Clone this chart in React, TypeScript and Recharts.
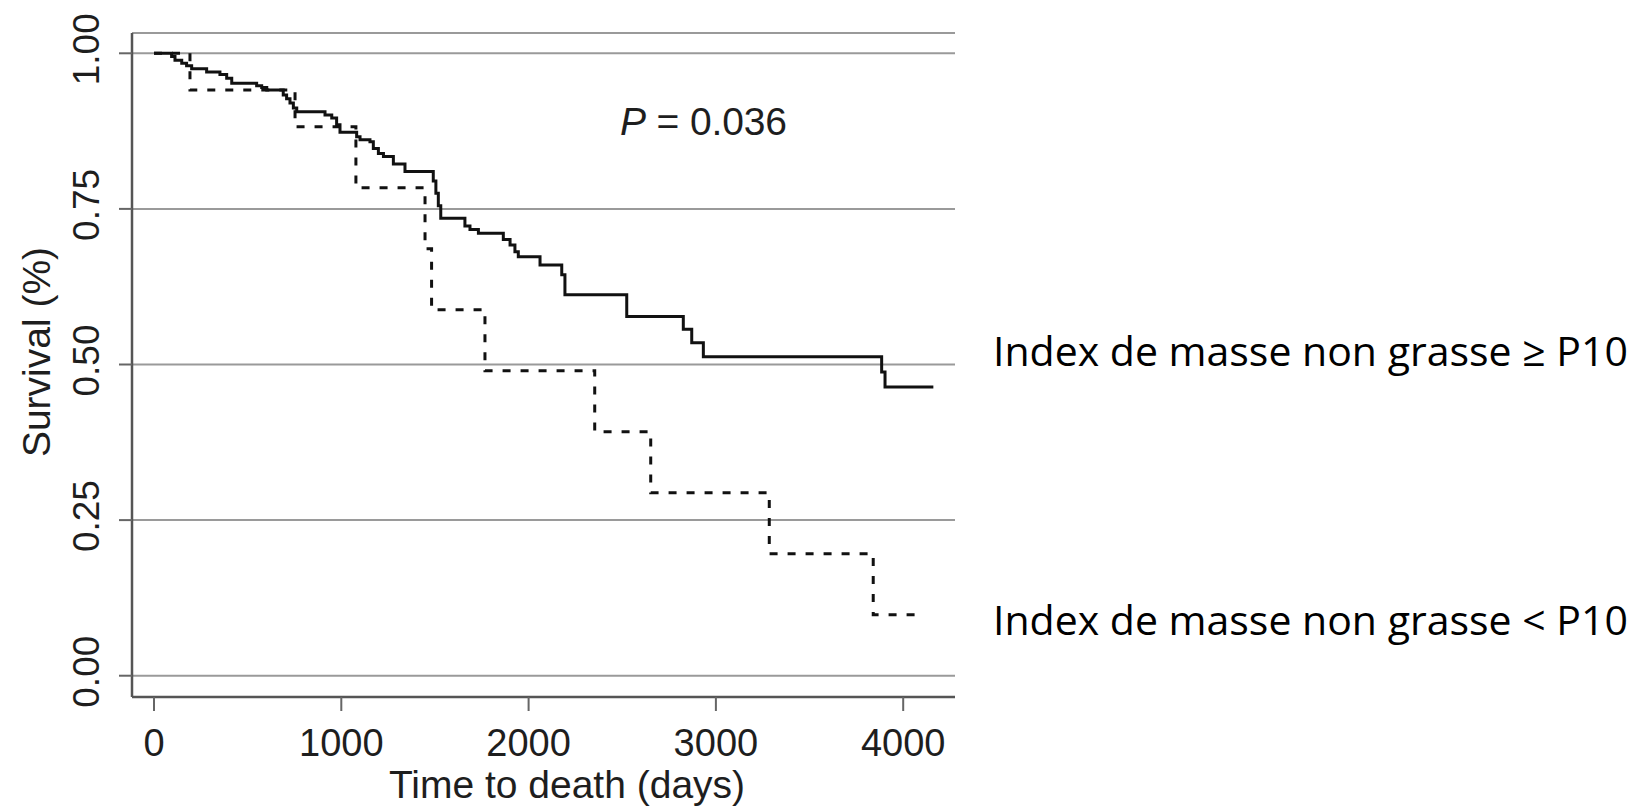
import { LineChart, Line, XAxis, YAxis, CartesianGrid } from 'recharts';

// Kaplan-Meier estimate, lean mass index >= P10 (solid curve)
const highTimes = [
  0, 94, 112, 148, 174, 201, 281, 352, 388, 415,
  548, 575, 602, 690, 708, 726, 744, 762, 913, 949,
  975, 993, 1082, 1100, 1153, 1171, 1198, 1225, 1278, 1340,
  1491, 1505, 1518, 1531, 1660, 1687, 1732, 1865, 1901, 1927,
  1945, 2061, 2177, 2194, 2524, 2826, 2871, 2933, 3885, 3903,
  4161,
];
const highSurv = [
  1, 0.995, 0.989, 0.984, 0.98, 0.975, 0.97, 0.966, 0.96, 0.952,
  0.948, 0.945, 0.941, 0.933, 0.927, 0.92, 0.912, 0.906, 0.901, 0.896,
  0.885, 0.873, 0.866, 0.861, 0.858, 0.847, 0.839, 0.834, 0.822, 0.81,
  0.795, 0.775, 0.755, 0.735, 0.7225, 0.717, 0.711, 0.701, 0.692, 0.681,
  0.673, 0.66, 0.644, 0.612, 0.577, 0.5565, 0.535, 0.5126, 0.488, 0.464,
  0.464,
];

// lean mass index < P10 (dashed curve)
const lowTimes = [0, 192, 753, 1078, 1447, 1482, 1767, 2353, 2652, 3285, 3840, 4100];
const lowSurv = [1, 0.941, 0.882, 0.784, 0.686, 0.588, 0.49, 0.392, 0.294, 0.196, 0.098, 0.098];

const xTicks = [0, 1000, 2000, 3000, 4000];
const yTicks = [0, 0.25, 0.5, 0.75, 1];

const xTitle = 'Time to death (days)';
const yTitle = 'Survival (%)';
const pValue = '0.036';
const highLabel = 'Index de masse non grasse ≥ P10';
const lowLabel = 'Index de masse non grasse < P10';

const highData = highTimes.map((t, i) => ({ t, s: highSurv[i] }));
const lowData = lowTimes.map((t, i) => ({ t, s: lowSurv[i] }));

const FONT = '"Liberation Sans", Arial, Helvetica, sans-serif';
const LABEL_FONT = '"Open Sans", "Noto Sans", sans-serif';
const INK = '#1e1e1e';

const XTick = ({ x, y, payload }: any) => (
  <text x={x} y={y + 43} textAnchor="middle" fontSize={38} fontFamily={FONT} fill={INK}>
    {payload.value}
  </text>
);

const YTick = ({ x, y, payload }: any) => (
  <text
    transform={`translate(${x - 18}, ${y - 4}) rotate(-90)`}
    textAnchor="middle"
    fontSize={37}
    fontFamily={FONT}
    fill={INK}
  >
    {Number(payload.value).toFixed(2)}
  </text>
);

export default function App() {
  return (
    <div style={{ position: 'absolute', left: 0, top: 0, width: 1648, height: 810, background: '#fff' }}>
      <LineChart
        width={1648}
        height={810}
        margin={{ top: 33, right: 693, bottom: 53, left: 32 }}
      >
        <CartesianGrid vertical={false} stroke="#9a9a9a" strokeWidth={2} />
        <XAxis
          type="number"
          dataKey="t"
          domain={[-117.5, 4276.6]}
          ticks={xTicks}
          interval={0}
          allowDataOverflow
          height={60}
          tickSize={14}
          axisLine={{ stroke: '#555', strokeWidth: 2.5 }}
          tickLine={{ stroke: '#666', strokeWidth: 2 }}
          tick={<XTick />}
        />
        <YAxis
          type="number"
          dataKey="s"
          domain={[-0.0342, 1.0326]}
          ticks={yTicks}
          interval={0}
          allowDataOverflow
          width={100}
          tickSize={13}
          axisLine={{ stroke: '#555', strokeWidth: 2.5 }}
          tickLine={{ stroke: '#666', strokeWidth: 2 }}
          tick={<YTick />}
        />
        <Line
          data={lowData}
          dataKey="s"
          type="stepAfter"
          stroke="#111"
          strokeWidth={3}
          strokeDasharray="8 10"
          dot={false}
          activeDot={false}
          isAnimationActive={false}
        />
        <Line
          data={highData}
          dataKey="s"
          type="stepAfter"
          stroke="#111"
          strokeWidth={3}
          dot={false}
          activeDot={false}
          isAnimationActive={false}
        />
      </LineChart>

      {/* titles, p-value and group labels */}
      <svg
        width={1648}
        height={810}
        style={{ position: 'absolute', left: 0, top: 0, pointerEvents: 'none' }}
      >
        <text x={620} y={135} fontSize={39} fontFamily={FONT} fill={INK} textLength={167}>
          <tspan fontStyle="italic">P</tspan> = {pValue}
        </text>
        <text x={567} y={798} textAnchor="middle" fontSize={39} fontFamily={FONT} fill={INK}>
          {xTitle}
        </text>
        <text
          transform="translate(50, 352) rotate(-90)"
          textAnchor="middle"
          fontSize={39}
          fontFamily={FONT}
          fill={INK}
        >
          {yTitle}
        </text>
        <text x={993} y={366} fontSize={41} fontFamily={LABEL_FONT} fill="#000">
          {highLabel}
        </text>
        <text x={993} y={635} fontSize={41} fontFamily={LABEL_FONT} fill="#000">
          {lowLabel}
        </text>
      </svg>
    </div>
  );
}
